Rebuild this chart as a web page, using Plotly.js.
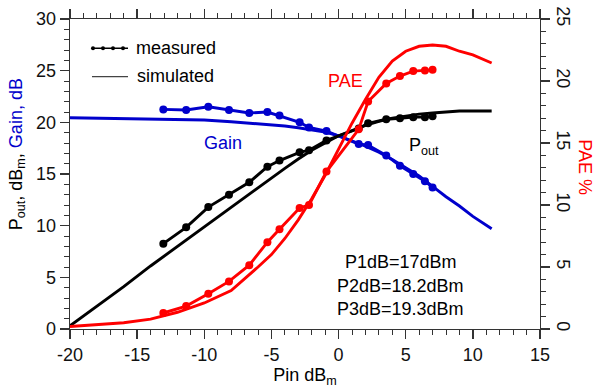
<!DOCTYPE html>
<html>
<head>
<meta charset="utf-8">
<script src="https://cdn.plot.ly/plotly-3.0.1.min.js"></script>
<style>html,body{margin:0;padding:0;background:#fff;}#chart{width:597px;height:390px;}</style>
</head>
<body>
<div id="chart"></div>
<script>
// Simulated curves
const pinSim  = [-20,-18,-16,-14,-12,-10,-8,-6,-5,-4,-3,-2,-1,0,1,2,3,4,5,6,7,8,9,10,11.4];
const poutSim = [0.3,2.2,4.1,6.1,8.0,9.9,11.8,13.7,14.65,15.55,16.45,17.3,18.0,18.7,19.2,19.7,20.1,20.4,20.6,20.8,20.9,21.0,21.1,21.1,21.1];
const gainSim = [20.45,20.4,20.35,20.3,20.28,20.22,20.05,19.88,19.78,19.65,19.48,19.3,19.05,18.7,18.2,17.7,17.1,16.4,15.6,14.8,13.8,12.8,11.9,10.9,9.7];
const paeSim  = [0.2,0.33,0.5,0.8,1.35,2.1,3.1,5.0,6.0,7.3,8.8,10.5,12.4,14.5,16.6,18.5,20.3,21.6,22.4,22.8,22.9,22.8,22.4,22.1,21.45];
// Measured points
const pinMeas  = [-13.05,-11.35,-9.7,-8.16,-6.65,-5.3,-4.4,-2.9,-2.2,-0.9,1.5,2.2,3.55,4.57,5.56,6.43,7.0];
const poutMeas = [8.26,9.84,11.8,13.0,14.2,15.7,16.3,17.1,17.3,18.25,19.4,19.9,20.3,20.4,20.5,20.5,20.6];
const gainMeas = [21.25,21.2,21.5,21.2,20.9,21.0,20.65,20.0,19.5,19.15,17.9,17.8,16.8,15.8,15.0,14.3,13.7];
const paeMeas  = [1.29,1.85,2.85,3.84,5.15,7.0,8.05,9.75,10.0,12.7,16.1,18.35,19.8,20.4,20.8,20.85,20.9];
// Tick labels and text
const xTickVals = [-20,-15,-10,-5,0,5,10,15];
const xTickText = ['-20','-15','-10','-5','0','5','10','15'];
const yTickVals = [0,5,10,15,20,25,30];
const yTickText = ['0','5','10','15','20','25','30'];
const y2TickVals = [0,5,10,15,20,25];
const y2TickText = ['0','5','10','15','20','25'];
const legendLabels = ['measured','simulated'];
const compressionLabels = ['P1dB=17dBm','P2dB=18.2dBm','P3dB=19.3dBm'];

const BLUE = '#0000cc', RED = '#ff0000', BLACK = '#000000';
const FONT = 'Liberation Sans, Arial, sans-serif';

function sim(y, color, yaxis) {
  return {x: pinSim, y: y, type: 'scatter', mode: 'lines', yaxis: yaxis,
          line: {color: color, width: 2.9}, hoverinfo: 'skip', showlegend: false};
}
function meas(y, color, yaxis) {
  return {x: pinMeas, y: y, type: 'scatter', mode: 'lines+markers', yaxis: yaxis,
          line: {color: color, width: 2.9}, marker: {color: color, size: 8},
          hoverinfo: 'skip', showlegend: false};
}

const data = [
  sim(gainSim, BLUE, 'y'), sim(poutSim, BLACK, 'y'), sim(paeSim, RED, 'y2'),
  meas(gainMeas, BLUE, 'y'), meas(poutMeas, BLACK, 'y'), meas(paeMeas, RED, 'y2')
];

const tickCommon = {
  showline: true, linecolor: '#333', linewidth: 1.3,
  ticks: 'outside', ticklen: 9, tickwidth: 1.3, tickcolor: '#333',
  showgrid: false, zeroline: false, tickmode: 'array',
  tickfont: {family: FONT, size: 18, color: '#111'},
  minor: {dtick: 1, tick0: 0, ticks: 'outside', ticklen: 5, tickwidth: 1, tickcolor: '#333', showgrid: false}
};

const shapes = [
  {type: 'line', xref: 'paper', yref: 'paper', x0: 0.0468, x1: 0.1234, y0: 0.906, y1: 0.906,
   line: {color: BLACK, width: 1.5}},
  {type: 'line', xref: 'paper', yref: 'paper', x0: 0.0468, x1: 0.1234, y0: 0.814, y1: 0.814,
   line: {color: '#444', width: 1.3}}
];
[0.0489, 0.0702, 0.0915, 0.1128].forEach(function (px) {
  shapes.push({type: 'circle', xref: 'paper', yref: 'paper', xsizemode: 'pixel', ysizemode: 'pixel',
    xanchor: px, yanchor: 0.906, x0: -2, x1: 2, y0: -2, y1: 2,
    fillcolor: BLACK, line: {width: 0}});
});

const annotations = [
  {xref: 'paper', yref: 'paper', x: 0.136, y: 0.908, xanchor: 'left', yanchor: 'middle',
   text: legendLabels[0], showarrow: false, font: {family: FONT, size: 18, color: BLACK}},
  {xref: 'paper', yref: 'paper', x: 0.138, y: 0.816, xanchor: 'left', yanchor: 'middle',
   text: legendLabels[1], showarrow: false, font: {family: FONT, size: 18, color: BLACK}},
  {xref: 'x', yref: 'y', x: 0.55, y: 24.0, text: 'PAE', showarrow: false,
   font: {family: FONT, size: 18, color: RED}},
  {xref: 'x', yref: 'y', x: -8.6, y: 18.0, text: 'Gain', showarrow: false,
   font: {family: FONT, size: 18, color: BLUE}},
  {xref: 'x', yref: 'y', x: 5.1, y: 17.7, xanchor: 'left', text: 'P<sub>out</sub>', showarrow: false,
   font: {family: FONT, size: 18, color: BLACK}},
  {xref: 'x', yref: 'y', x: 4.64, y: 6.5, text: compressionLabels[0], showarrow: false,
   font: {family: FONT, size: 18, color: BLACK}},
  {xref: 'x', yref: 'y', x: 4.64, y: 4.2, text: compressionLabels[1], showarrow: false,
   font: {family: FONT, size: 18, color: BLACK}},
  {xref: 'x', yref: 'y', x: 4.64, y: 1.95, text: compressionLabels[2], showarrow: false,
   font: {family: FONT, size: 18, color: BLACK}},
  {xref: 'paper', yref: 'paper', x: -0.112, y: 0.565, xanchor: 'center', yanchor: 'middle',
   textangle: -90, showarrow: false,
   text: 'P<sub>out</sub>, dB<sub>m</sub>, <span style="color:' + BLUE + '">Gain, dB</span>',
   font: {family: FONT, size: 18, color: BLACK}},
  {xref: 'paper', yref: 'paper', x: 1.097, y: 0.523, xanchor: 'center', yanchor: 'middle',
   textangle: 90, showarrow: false,
   text: 'PAE %', font: {family: FONT, size: 18, color: RED}}
];

const layout = {
  width: 597, height: 390,
  margin: {l: 70, r: 57, t: 19, b: 61},
  paper_bgcolor: '#fff', plot_bgcolor: '#fff',
  font: {family: FONT, size: 18, color: BLACK},
  showlegend: false,
  xaxis: Object.assign({}, tickCommon, {
    range: [-20, 15], tickvals: xTickVals, ticktext: xTickText, mirror: 'ticks',
    title: {text: 'Pin dB<sub>m</sub>', font: {family: FONT, size: 18, color: BLACK}, standoff: 2}
  }),
  yaxis: Object.assign({}, tickCommon, {
    range: [0, 30], tickvals: yTickVals, ticktext: yTickText
  }),
  yaxis2: Object.assign({}, tickCommon, {
    range: [0, 25], tickvals: y2TickVals, ticktext: y2TickText,
    overlaying: 'y', side: 'right', tickangle: 90
  }),
  shapes: shapes,
  annotations: annotations
};

Plotly.newPlot('chart', data, layout, {staticPlot: true, displayModeBar: false});
</script>
</body>
</html>
